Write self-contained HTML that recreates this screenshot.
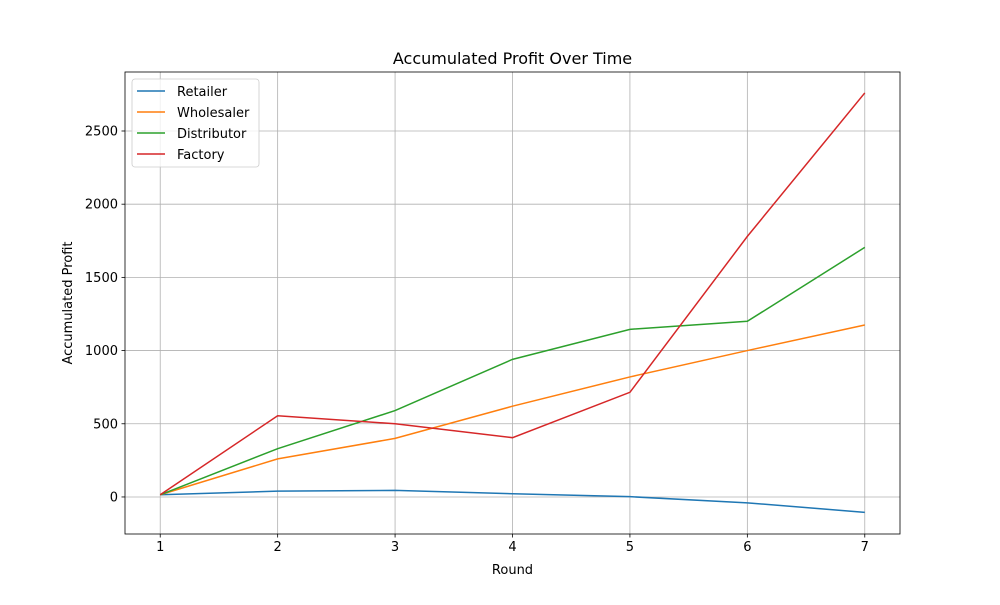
<!DOCTYPE html>
<html><head><meta charset="utf-8"><style>
body{margin:0;background:#fff;font-family:"Liberation Sans","DejaVu Sans",sans-serif;}
svg text{font-family:"DejaVu Sans","Liberation Sans",sans-serif;}
</style></head><body>
<svg id="chart" width="1000" height="600" xmlns="http://www.w3.org/2000/svg"></svg>
<script>
const rounds=[1,2,3,4,5,6,7];
const retailer=[15,40,45,22,2,-40,-105];
const wholesaler=[15,260,400,620,820,1000,1175];
const distributor=[15,330,590,940,1145,1200,1705];
const factory=[15,555,500,405,715,1780,2760];
const seriesNames=["Retailer","Wholesaler","Distributor","Factory"];
const xTicks=[1,2,3,4,5,6,7];
const yTicks=[0,500,1000,1500,2000,2500];

const svg=document.getElementById('chart');
const NS='http://www.w3.org/2000/svg';
const L=125,R=900,T=72,B=534;
const xMin=0.7,xMax=7.3,yMin=-253,yMax=2903;
const X=v=>L+(v-xMin)/(xMax-xMin)*(R-L);
const Y=v=>B-(v-yMin)/(yMax-yMin)*(B-T);
function el(tag,attrs,txt){const e=document.createElementNS(NS,tag);for(const k in attrs)e.setAttribute(k,attrs[k]);if(txt!==undefined)e.textContent=txt;svg.appendChild(e);return e;}

xTicks.forEach(t=>{
 const g=el('line',{x1:X(t),x2:X(t),y1:T,y2:B,stroke:'#b0b0b0','stroke-width':0.8});
 
 
 el('line',{x1:X(t),x2:X(t),y1:B,y2:B+3.5,stroke:'#000','stroke-width':0.8});
 const tx=el('text',{x:X(t),y:B+17,'text-anchor':'middle','font-size':13},t);
 
 
});
yTicks.forEach(t=>{
 const g=el('line',{x1:L,x2:R,y1:Y(t),y2:Y(t),stroke:'#b0b0b0','stroke-width':0.8});
 
 
 el('line',{x1:L-3.5,x2:L,y1:Y(t),y2:Y(t),stroke:'#000','stroke-width':0.8});
 const tx=el('text',{x:L-7,y:Y(t)+4.5,'text-anchor':'end','font-size':13},t);
 
 
});
const colors=['#1f77b4','#ff7f0e','#2ca02c','#d62728'];
[retailer,wholesaler,distributor,factory].forEach((s,i)=>{
 const p=el('polyline',{points:s.map((v,j)=>X(rounds[j])+','+Y(v)).join(' '),fill:'none',stroke:colors[i],'stroke-width':1.5});
 
 
});
const frame=el('rect',{x:L,y:T,width:R-L,height:B-T,fill:'none',stroke:'#000','stroke-width':0.8});



const lg=el('rect',{x:132,y:79,width:127,height:88,rx:3,fill:'#fff','fill-opacity':0.8,stroke:'#ccc','stroke-width':0.8});


seriesNames.forEach((n,i)=>{
 const y=91+i*21;
 el('line',{x1:137,x2:165,y1:y,y2:y,stroke:colors[i],'stroke-width':1.5});
 const t=el('text',{x:177,y:y+5,'font-size':13},n);
 
 
});
const title=el('text',{x:(L+R)/2,y:64,'text-anchor':'middle','font-size':16},'Accumulated Profit Over Time');


const xt=el('text',{x:(L+R)/2,y:574,'text-anchor':'middle','font-size':13},'Round');


const yt=el('text',{x:72,y:(T+B)/2,'text-anchor':'middle','font-size':13,transform:'rotate(-90 72 '+((T+B)/2)+')'},'Accumulated Profit');


</script>
</body></html>
